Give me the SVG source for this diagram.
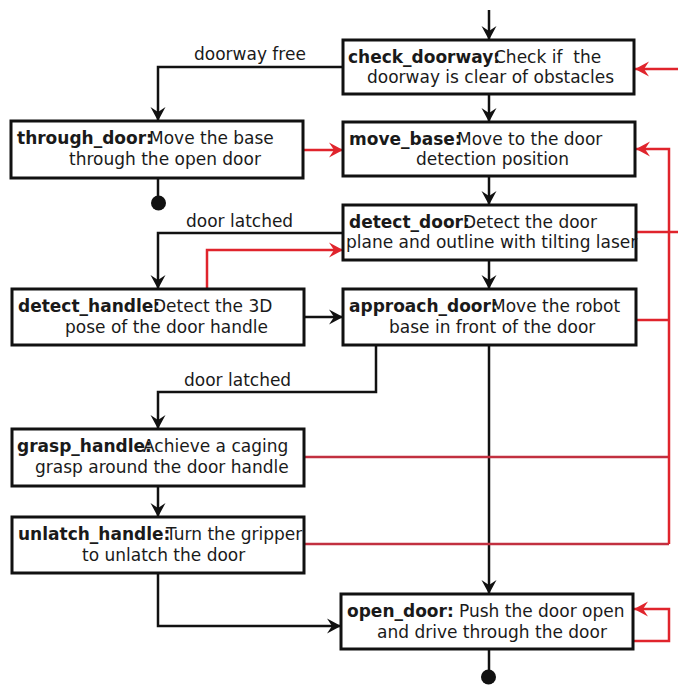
<svg xmlns="http://www.w3.org/2000/svg" width="678" height="685" viewBox="0 0 678 685">
<defs>
<style>
.box{fill:#fff;stroke:#111;stroke-width:3}
text{font-family:"DejaVu Sans","Liberation Sans",sans-serif;font-size:17px;fill:#1a1a1a}
.b{font-weight:bold}
.k{fill:none;stroke:#111;stroke-width:2.5}
.r{fill:none;stroke:#e0242c;stroke-width:2.5}
.r2{fill:none;stroke:#c23040;stroke-width:2.5}
</style>
<marker id="ak" viewBox="-14 -8 15 16" refX="0" refY="0" markerWidth="15" markerHeight="16" markerUnits="userSpaceOnUse" orient="auto"><path d="M0,0 L-14,-7.5 L-9,0 L-14,7.5 Z" fill="#111"/></marker>
<marker id="ar" viewBox="-14 -8 15 16" refX="0" refY="0" markerWidth="15" markerHeight="16" markerUnits="userSpaceOnUse" orient="auto"><path d="M0,0 L-14,-7.5 L-9,0 L-14,7.5 Z" fill="#e0242c"/></marker>
</defs>
<rect width="678" height="685" fill="#fff"/>
<g id="connectors">
<path class="k" d="M489,10 V40" marker-end="url(#ak)"/>
<path class="k" d="M489,94 V122" marker-end="url(#ak)"/>
<path class="k" d="M489,176 V205" marker-end="url(#ak)"/>
<path class="k" d="M489,260 V289" marker-end="url(#ak)"/>
<path class="k" d="M489,345 V594" marker-end="url(#ak)"/>
<path class="k" d="M343,67 H158 V121" marker-end="url(#ak)"/>
<path class="k" d="M158,178 V203"/>
<circle cx="158.5" cy="203" r="7.5" fill="#111"/>
<path class="k" d="M343,233 H158 V289" marker-end="url(#ak)"/>
<path class="k" d="M304,317 H343" marker-end="url(#ak)"/>
<path class="k" d="M376,345 V392 H158 V429" marker-end="url(#ak)"/>
<path class="k" d="M158,486 V517" marker-end="url(#ak)"/>
<path class="k" d="M158,573 V626 H341" marker-end="url(#ak)"/>
<path class="k" d="M489,649 V677"/>
<circle cx="488.5" cy="677" r="7.5" fill="#111"/>
<path class="r" d="M303,150 H343" marker-end="url(#ar)"/>
<path class="r" d="M207,289 V250 H343" marker-end="url(#ar)"/>
<path class="r" d="M636,232 H690 V69 H635" marker-end="url(#ar)"/>
<path class="r" d="M636,320 H669"/>
<path class="r2" d="M304,457 H669"/>
<path class="r2" d="M304,544 H669"/>
<path class="r" d="M669,544 V149 H636" marker-end="url(#ar)"/>
<path class="r" d="M633,641 H669 V609 H634" marker-end="url(#ar)"/>
<text x="194" y="60">doorway free</text>
<text x="186" y="227">door latched</text>
<text x="184" y="386">door latched</text>
</g>
<g id="check_doorway">
<rect class="box" x="343" y="40" width="291" height="54"/>
<text class="b" x="348" y="63">check_doorway:</text>
<text x="494" y="63" xml:space="preserve">Check if  the</text>
<text x="367" y="83">doorway is clear of obstacles</text>
</g>
<g id="move_base">
<rect class="box" x="343" y="122" width="292" height="54"/>
<text class="b" x="349" y="145">move_base:</text>
<text x="457" y="145">Move to the door</text>
<text x="416" y="165">detection position</text>
</g>
<g id="through_door">
<rect class="box" x="11" y="121" width="292" height="57"/>
<text class="b" x="17" y="144">through_door:</text>
<text x="149" y="144">Move the base</text>
<text x="69" y="165">through the open door</text>
</g>
<g id="detect_door">
<rect class="box" x="343" y="205" width="293" height="55"/>
<text class="b" x="349" y="228">detect_door:</text>
<text x="463" y="228">Detect the door</text>
<text x="346" y="248">plane and outline with tilting laser</text>
</g>
<g id="approach_door">
<rect class="box" x="343" y="289" width="293" height="56"/>
<text class="b" x="349" y="312">approach_door:</text>
<text x="491" y="312">Move the robot</text>
<text x="389" y="333">base in front of the door</text>
</g>
<g id="detect_handle">
<rect class="box" x="12" y="289" width="292" height="56"/>
<text class="b" x="18" y="312">detect_handle:</text>
<text x="153" y="312">Detect the 3D</text>
<text x="65" y="333">pose of the door handle</text>
</g>
<g id="grasp_handle">
<rect class="box" x="12" y="429" width="292" height="57"/>
<text class="b" x="17" y="452">grasp_handle:</text>
<text x="143" y="452">Achieve a caging</text>
<text x="35" y="473">grasp around the door handle</text>
</g>
<g id="unlatch_handle">
<rect class="box" x="12" y="517" width="292" height="56"/>
<text class="b" x="18" y="540">unlatch_handle:</text>
<text x="166" y="540">Turn the gripper</text>
<text x="82" y="561">to unlatch the door</text>
</g>
<g id="open_door">
<rect class="box" x="341" y="594" width="292" height="55"/>
<text class="b" x="347" y="617">open_door:</text>
<text x="459" y="617">Push the door open</text>
<text x="377" y="638">and drive through the door</text>
</g>
</svg>
